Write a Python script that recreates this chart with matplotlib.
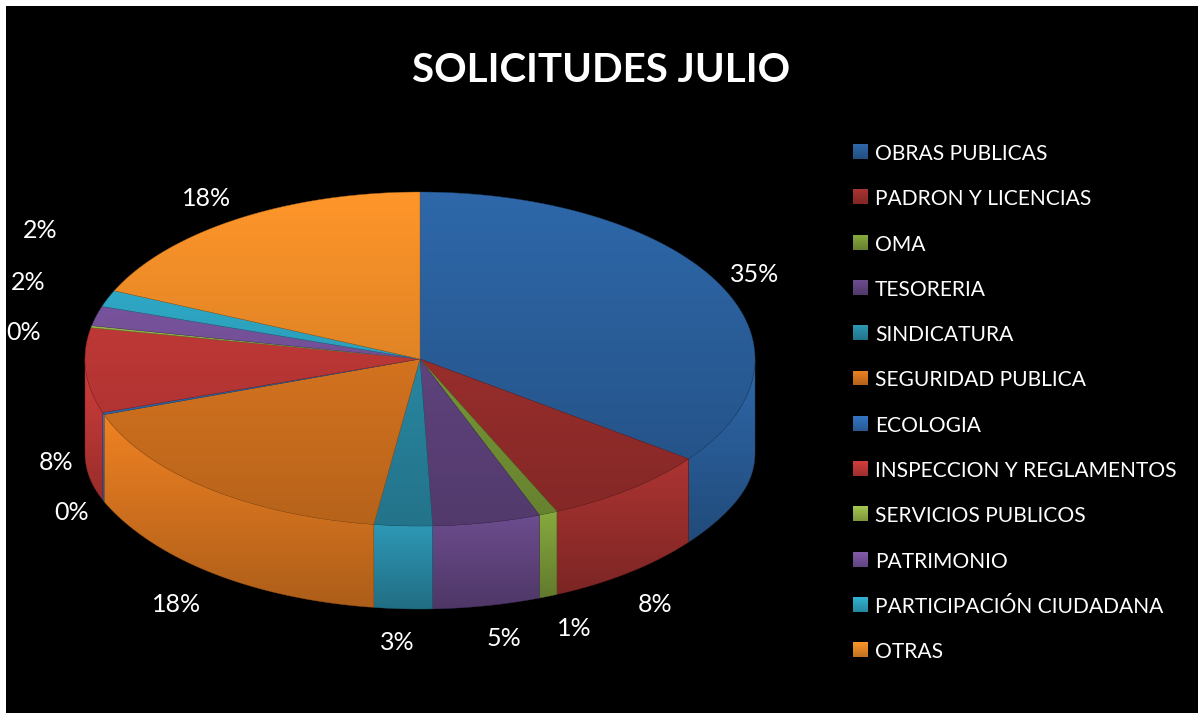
import numpy as np
import matplotlib
matplotlib.use("Agg")
import matplotlib.pyplot as plt
from matplotlib.patches import Polygon

plt.rcParams['font.family'] = ['Lato', 'DejaVu Sans']

title = "SOLICITUDES JULIO"
categories = ["OBRAS PUBLICAS", "PADRON Y LICENCIAS", "OMA", "TESORERIA", "SINDICATURA",
              "SEGURIDAD PUBLICA", "ECOLOGIA", "INSPECCION Y REGLAMENTOS",
              "SERVICIOS PUBLICOS", "PATRIMONIO", "PARTICIPACIÓN CIUDADANA", "OTRAS"]
values = [35.2, 8.1, 0.9, 5.2, 2.8, 17.4, 0.2, 8.2, 0.2, 1.9, 1.6, 18.3]
pct_labels = ["35%", "8%", "1%", "5%", "3%", "18%", "0%", "8%", "0%", "2%", "2%", "18%"]
colors = [(46, 104, 170), (172, 52, 50), (135, 170, 62), (108, 76, 142), (46, 152, 182),
          (240, 130, 35), (52, 118, 195), (210, 62, 60), (165, 200, 80),
          (130, 90, 170), (50, 180, 212), (255, 150, 42)]
label_xy = [(755, 273), (655, 602), (574, 627), (504, 637), (397, 640), (177, 602),
            (72, 510), (56, 460), (24, 330), (28, 281), (40, 229), (207, 196)]

W, H = 1198, 713
CX, CY, RX, RY, DEPTH = 420, 359, 335, 167, 83
LEGEND_X, LEGEND_Y0, LEGEND_DY = 853, 152, 45.3
TEXT_SHIFT = 2

fig = plt.figure(figsize=(W / 100, H / 100), dpi=100, facecolor='white')
ax = fig.add_axes([6 / W, 0, (W - 6) / W, (H - 6) / H], facecolor='black')
ax.set_xlim(6, W)
ax.set_ylim(H, 6)
ax.axis('off')
ax.add_patch(plt.Rectangle((6, 6), W, H, fc='black', ec='none', zorder=0))


def rim(theta):
    return CX + RX * np.sin(theta), CY - RY * np.cos(theta)


def fill(poly_xy, base, y0, y1, f0, f1, z, line=0.3):
    """Vertical gradient clipped to a polygon."""
    poly = Polygon(poly_xy, closed=True, fc='none', ec='none', transform=ax.transData)
    ax.add_patch(poly)
    ymin, ymax = poly_xy[:, 1].min(), poly_xy[:, 1].max()
    n = 128
    ys = np.linspace(ymin, ymax, n)
    f = f0 + (f1 - f0) * (ys - y0) / (y1 - y0)
    img = np.clip(np.outer(f, np.array(base) / 255.0), 0, 1).reshape(n, 1, 3)
    im = ax.imshow(img, extent=(poly_xy[:, 0].min(), poly_xy[:, 0].max(), ymax, ymin),
                   aspect='auto', zorder=z, interpolation='bilinear')
    im.set_clip_path(poly)
    if line:
        edge = np.array(base) / 255.0 * 0.65
        ax.add_patch(Polygon(poly_xy, closed=True, fc='none', ec=edge, lw=line, zorder=z + 0.1))


edges = np.cumsum([0] + values) / sum(values) * 2 * np.pi

# side walls: only the front half of the rim is visible
for i, col in enumerate(colors):
    a, b = max(edges[i], np.pi / 2), min(edges[i + 1], 3 * np.pi / 2)
    if b <= a:
        continue
    t = np.linspace(a, b, 80)
    x, y = rim(t)
    # the lower rim sits a little squarer at its far left and right ends
    lower = y + DEPTH + 10 * np.sin(t) ** 16
    pts = np.column_stack([np.r_[x, x[::-1]], np.r_[y, lower[::-1]]])
    fill(pts, col, pts[:, 1].min(), pts[:, 1].max(), 1.0, 0.72, 2 + i * 0.2)

# top faces
for i, col in enumerate(colors):
    t = np.linspace(edges[i], edges[i + 1], 120)
    x, y = rim(t)
    pts = np.column_stack([np.r_[CX, x], np.r_[CY, y]])
    fill(pts, col, CY - RY, CY + RY, 1.0, 0.76, 6 + i * 0.2)

for (x, y), s in zip(label_xy, pct_labels):
    ax.text(x, y + TEXT_SHIFT, s, color='white', fontsize=18, ha='center', va='center', zorder=20)

ax.text(601, 70, title, color='white', fontsize=29, fontweight='bold', ha='center', va='center', zorder=20)

for i, (name, col) in enumerate(zip(categories, colors)):
    yc = LEGEND_Y0 + i * LEGEND_DY
    sw = np.array([[LEGEND_X, yc - 8], [LEGEND_X + 15, yc - 8], [LEGEND_X + 15, yc + 7], [LEGEND_X, yc + 7]], float)
    fill(sw, col, yc - 8, yc + 7, 1.0, 0.75, 15, line=0)
    ax.text(LEGEND_X + 22, yc + TEXT_SHIFT, name, color='white', fontsize=15.1, ha='left', va='center', zorder=20)

ax.set_xlim(6, W)
ax.set_ylim(H, 6)
fig.savefig("out.png", dpi=100, facecolor='white')
